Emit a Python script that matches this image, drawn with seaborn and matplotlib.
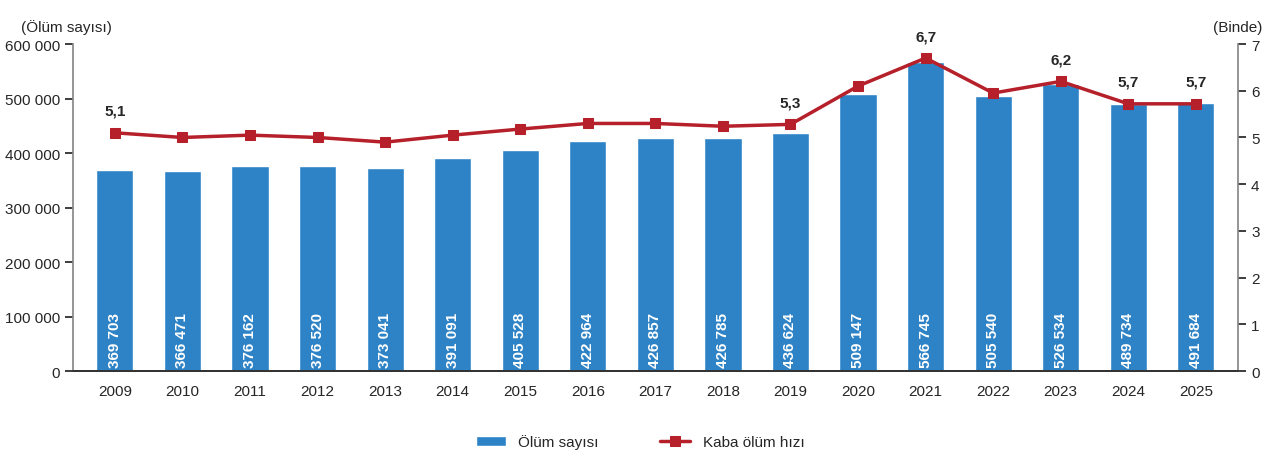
import matplotlib
matplotlib.use("Agg")
import matplotlib.pyplot as plt
import pandas as pd
import seaborn as sns

years = [str(y) for y in range(2009, 2026)]
deaths = [369703, 366471, 376162, 376520, 373041, 391091, 405528, 422964, 426857,
          426785, 436624, 509147, 566745, 505540, 526534, 489734, 491684]
rate = [5.1, 5.0, 5.05, 5.0, 4.9, 5.05, 5.18, 5.3, 5.3, 5.24, 5.28, 6.1, 6.7,
        5.95, 6.2, 5.72, 5.72]
labelled_years = ["2009", "2019", "2021", "2023", "2024", "2025"]

df = pd.DataFrame({"year": years, "deaths": deaths, "rate": rate})

sns.set_theme(style="white")
plt.rcParams["font.family"] = ["Arial", "Liberation Sans", "DejaVu Sans"]

fig = plt.figure(figsize=(12.8, 4.64), dpi=100)
ax = fig.add_axes([0.057, 0.198, 0.91, 0.705])
sns.barplot(data=df, x="year", y="deaths", color="#2e83c6", width=0.55, ax=ax,
            saturation=1, label="Ölüm sayısı")
ax.set_xlim(-0.62, 16.62)
ax.set_ylim(0, 600000)
ax.set_yticks(range(0, 600001, 100000))
ax.set_yticklabels([f"{v:,}".replace(",", " ") for v in range(0, 600001, 100000)], fontsize=11)
ax.set_xlabel("")
ax.set_ylabel("")
ax.tick_params(axis="x", labelsize=11)
for i, v in enumerate(deaths):
    ax.text(i, 8000, f"{v:,}".replace(",", " "), rotation=90, ha="center", va="bottom",
            color="white", fontsize=11, fontweight="bold")
for s in ["top", "right"]:
    ax.spines[s].set_visible(False)
ax.spines["left"].set_color("#888888")
ax.spines["bottom"].set_color("#888888")
ax.text(-0.045, 1.04, "(Ölüm sayısı)", transform=ax.transAxes, fontsize=11, ha="left")

ax2 = ax.twinx()
sns.lineplot(x=list(range(len(years))), y=rate, ax=ax2, color="#b5202a", linewidth=2.5,
             marker="s", markersize=7, markeredgecolor="#b5202a", label="Kaba ölüm hızı",
             legend=False)
ax2.set_xlim(-0.62, 16.62)
ax2.set_ylim(0, 7)
ax2.set_yticks(range(0, 8))
ax2.tick_params(axis="y", labelsize=11)
for s in ["top", "left"]:
    ax2.spines[s].set_visible(False)
ax2.spines["right"].set_color("#888888")
ax2.grid(False)
ax2.text(1.0, 1.04, "(Binde)", transform=ax2.transAxes, fontsize=11, ha="center")
for i, (y, r) in enumerate(zip(years, rate)):
    if y in labelled_years:
        ax2.text(i, r + 0.32, f"{r:.1f}".replace(".", ","), ha="center", va="bottom",
                 fontsize=11, fontweight="bold")

h1, l1 = ax.get_legend_handles_labels()
h2, l2 = ax2.get_legend_handles_labels()
if ax.get_legend() is not None:
    ax.get_legend().remove()
fig.legend(h1 + h2, l1 + l2, loc="lower center", ncol=2, frameon=False, fontsize=11,
           bbox_to_anchor=(0.5, 0.0), columnspacing=4)
fig.savefig("out.png", dpi=100)
